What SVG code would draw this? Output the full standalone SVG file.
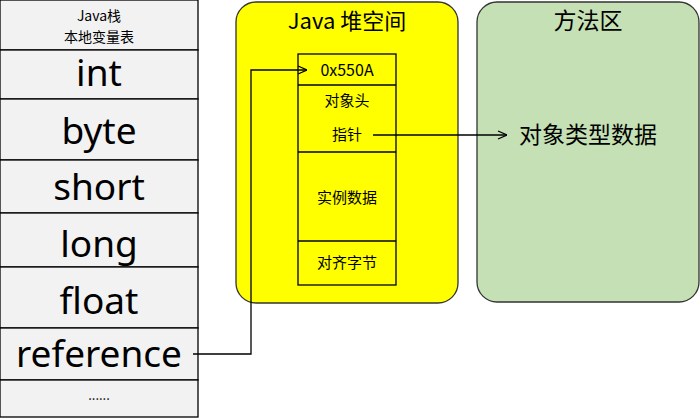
<svg xmlns="http://www.w3.org/2000/svg" width="700" height="418" viewBox="0 0 700 418">
<defs>
<style>
.cell{fill:#F2F2F2;stroke:#000;stroke-width:1.3}
.big{font-family:"Noto Sans","Open Sans","Liberation Sans",sans-serif;font-size:37px;fill:#000;text-anchor:middle}
.t{font-family:"Noto Sans CJK SC","Noto Sans",sans-serif;fill:#000;text-anchor:middle}
.wire{fill:none;stroke:#000;stroke-width:1.3}
</style>
<marker id="arr" viewBox="0 0 10 10" refX="10" refY="5" markerWidth="10" markerHeight="10" markerUnits="userSpaceOnUse" orient="auto">
<path d="M1,1 L10,5 L1,9" fill="none" stroke="#000" stroke-width="1.3"/>
</marker>
</defs>
<rect width="700" height="418" fill="#fff"/>
<g id="stack">
<rect class="cell" x="0" y="0" width="198" height="50"/>
<text class="t" x="99" y="21" font-size="14">Java栈</text>
<text class="t" x="99" y="42" font-size="14">本地变量表</text>
<rect class="cell" x="0" y="50" width="198" height="49"/>
<text class="big" x="99" y="86">int</text>
<rect class="cell" x="0" y="99" width="198" height="61"/>
<text class="big" x="99" y="144">byte</text>
<rect class="cell" x="0" y="160" width="198" height="53"/>
<text class="big" x="99" y="200">short</text>
<rect class="cell" x="0" y="213" width="198" height="54"/>
<text class="big" x="99" y="257">long</text>
<rect class="cell" x="0" y="267" width="198" height="61"/>
<text class="big" x="99" y="314">float</text>
<rect class="cell" x="0" y="328" width="198" height="52"/>
<text class="big" x="99" y="367">reference</text>
<rect class="cell" x="0" y="380" width="198" height="37"/>
<text class="t" x="99" y="400" font-size="13">......</text>
</g>
<g id="heap">
<rect x="236" y="2" width="222" height="301" rx="20" fill="#FFFF00" stroke="#333" stroke-width="1.3"/>
<text class="t" x="347" y="29" font-size="22">Java 堆空间</text>
</g>
<g id="object">
<rect x="298" y="54" width="98" height="231" fill="#FFFF00" stroke="#000" stroke-width="1.3"/>
<line x1="298" y1="85" x2="396" y2="85" stroke="#000" stroke-width="1.3"/>
<line x1="298" y1="152" x2="396" y2="152" stroke="#000" stroke-width="1.3"/>
<line x1="298" y1="241" x2="396" y2="241" stroke="#000" stroke-width="1.3"/>
<text class="t" x="347" y="76" font-size="16">0x550A</text>
<text class="t" x="347" y="106" font-size="15">对象头</text>
<text class="t" x="347" y="140" font-size="15">指针</text>
<text class="t" x="347" y="203" font-size="15">实例数据</text>
<text class="t" x="347" y="268" font-size="15">对齐字节</text>
</g>
<g id="method">
<rect x="477" y="2" width="222" height="300" rx="20" fill="#C5E0B4" stroke="#333" stroke-width="1.3"/>
<text class="t" x="588" y="29" font-size="23">方法区</text>
<text class="t" x="588" y="143" font-size="23">对象类型数据</text>
</g>
<g id="connectors">
<polyline class="wire" points="193,354 251,354 251,70 307,70" marker-end="url(#arr)"/>
<line class="wire" x1="373" y1="135" x2="507" y2="135" marker-end="url(#arr)"/>
</g>
</svg>
